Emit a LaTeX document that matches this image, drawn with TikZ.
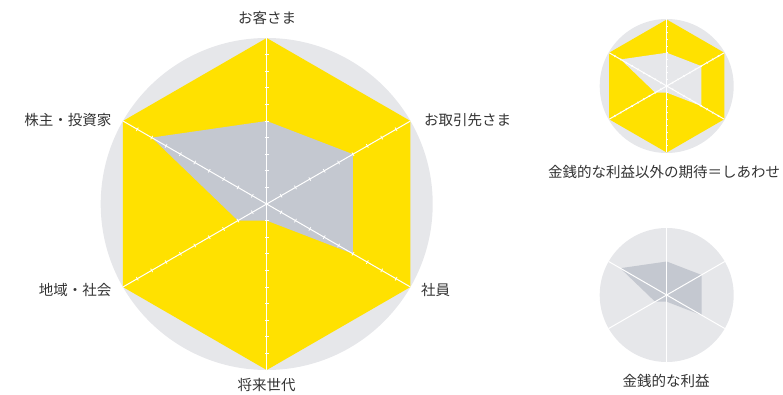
\documentclass[tikz,border=0pt]{standalone}
\usepackage{fontspec}
\newfontfamily\jp{Noto Sans CJK JP}
\usetikzlibrary{calc}
\definecolor{ylw}{HTML}{FFE100}
\definecolor{ring}{HTML}{E6E7EA}
\definecolor{poly}{HTML}{C4C8D0}
\definecolor{txt}{HTML}{333333}
\tikzset{
  lbl/.style={font=\jp\fontsize{14.5}{17}\selectfont, inner sep=0pt, text=txt},
  axis/.style={white, line width=1pt},
  tick/.style={white, line width=0.8pt},
}
% #1 prefix, #2 radius, #3 with ticks (1/0), #4 tick half length
\newcommand{\radaraxes}[4]{%
  \foreach \a [count=\i from 0] in {90,30,-30,-90,210,150} {
    \coordinate (#1v\i) at (\a:#2);
    \draw[axis] (#1c) -- (#1v\i);
    \ifnum#3=1
      \foreach \k in {1,...,9} {
        \coordinate (#1t) at (\a:{\k*#2/10});
        \draw[tick] ($(#1t)+({\a+90}:#4)$) -- ($(#1t)+({\a-90}:#4)$);
      }
    \fi
  }%
}
\begin{document}
\begin{tikzpicture}[x=1pt,y=1pt]
\useasboundingbox (0,0) rectangle (783,394);
% ---------- main chart ----------
\begin{scope}[shift={(266.7,190)}]
  \coordinate (mc) at (0,0);
  \fill[ring] (mc) circle (166);
  \fill[ylw] (90:166) -- (30:166) -- (-30:166) -- (-90:166) -- (210:166) -- (150:166) -- cycle;
  \fill[poly] (90:83) -- (30:99.6) -- (-30:99.6) -- (-90:16.6) -- (210:33.2) -- (150:132.8) -- cycle;
  \radaraxes{m}{166}{1}{2}
\end{scope}
\node[lbl] (l0) at (267,376.5) {お客さま};
\node[lbl, anchor=west] (l1) at (424,274) {お取引先さま};
\node[lbl, anchor=west] (l2) at (421,104) {社員};
\node[lbl] (l3) at (266.7,9) {将来世代};
\node[lbl, anchor=east] (l4) at (111.5,104) {地域・社会};
\node[lbl, anchor=east] (l5) at (111.5,274) {株主・投資家};
% ---------- small chart 1 ----------
\begin{scope}[shift={(666.7,308)}]
  \coordinate (ac) at (0,0);
  \fill[ring] (ac) circle (67);
  \fill[ylw] (90:66.5) -- (30:66.5) -- (-30:66.5) -- (-90:66.5) -- (210:66.5) -- (150:66.5) -- cycle;
  \fill[ring] (90:33.25) -- (30:39.9) -- (-30:39.9) -- (-90:6.65) -- (210:13.3) -- (150:53.2) -- cycle;
  \radaraxes{a}{66.5}{1}{1}
\end{scope}
\node[lbl] (la) at (664,222) {金銭的な利益以外の期待＝しあわせ};
% ---------- small chart 2 ----------
\begin{scope}[shift={(666.7,99)}]
  \coordinate (bc) at (0,0);
  \fill[ring] (bc) circle (67);
  \fill[poly] (90:33.5) -- (30:40.2) -- (-30:40.2) -- (-90:6.7) -- (210:13.4) -- (150:53.6) -- cycle;
  \radaraxes{b}{67}{0}{1}
\end{scope}
\node[lbl] (lb) at (666,13) {金銭的な利益};
\end{tikzpicture}
\end{document}
